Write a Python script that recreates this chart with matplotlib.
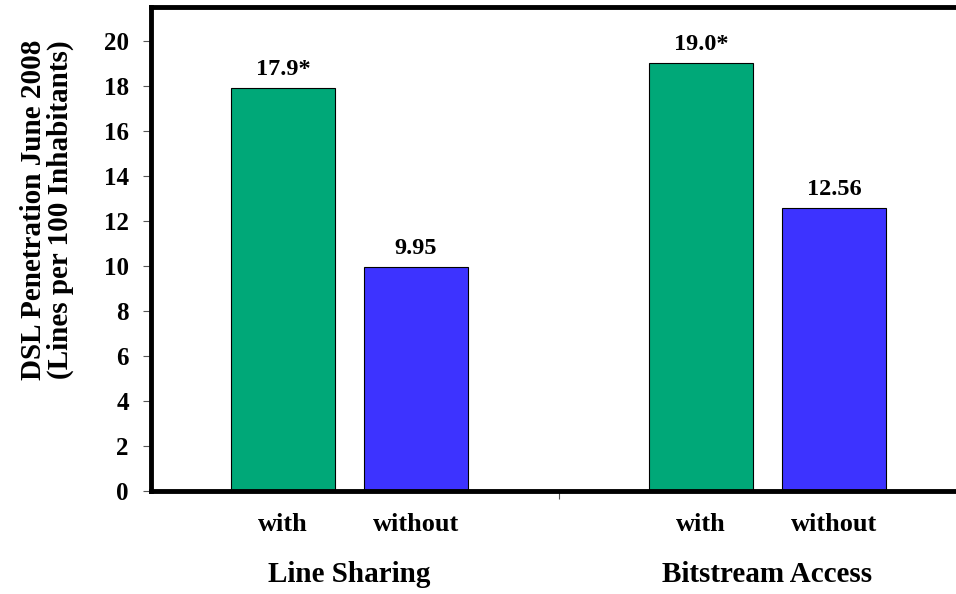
import matplotlib
matplotlib.use("Agg")
import matplotlib.pyplot as plt
import matplotlib.transforms as mtransforms
import numpy as np

groups = ["Line Sharing", "Bitstream Access"]
subcats = ["with", "without"]
with_vals = [17.9, 19.0]
without_vals = [9.95, 12.56]
with_labels = ["17.9*", "19.0*"]
without_labels = ["9.95", "12.56"]
yticks = [0, 2, 4, 6, 8, 10, 12, 14, 16, 18, 20]

plt.rcParams['font.family'] = ['Liberation Serif', 'DejaVu Serif']
plt.rcParams['font.weight'] = 'bold'

fig = plt.figure(figsize=(9.56, 5.94), dpi=100)
ax = fig.add_axes([151/956, 103/594, 815/956, 484/594])

x = np.arange(len(groups))
off = 0.159
w = 0.249
green = '#00A878'
blue = '#3D33FF'
b1 = ax.bar(x - off, with_vals, w, color=green, edgecolor='black', linewidth=0.8)
b2 = ax.bar(x + off, without_vals, w, color=blue, edgecolor='black', linewidth=0.8)

for rect, lab in zip(b1, with_labels):
    ax.annotate(lab, (rect.get_x() + rect.get_width()/2, rect.get_height()),
                xytext=(0, 6), textcoords='offset points', ha='center', va='bottom',
                fontsize=17.5, fontweight='bold')
for rect, lab in zip(b2, without_labels):
    ax.annotate(lab, (rect.get_x() + rect.get_width()/2, rect.get_height()),
                xytext=(0, 6), textcoords='offset points', ha='center', va='bottom',
                fontsize=17.5, fontweight='bold')

ax.set_xlim(-0.475, 1.475)
ax.set_ylim(0, 21.5)
ax.set_yticks(yticks)
ax.set_yticklabels([str(v) for v in yticks], fontsize=18, fontweight='bold')

pos = np.concatenate([x - off, x + off])
labs = [subcats[0]] * len(x) + [subcats[1]] * len(x)
ax.set_xticks(pos)
ax.set_xticklabels(labs, fontsize=19, fontweight='bold')
ax.tick_params(axis='x', which='major', length=0, pad=16)
ax.set_xticks([0.5], minor=True)
ax.tick_params(axis='x', which='minor', length=6, width=0.8, color='#555555')
ax.tick_params(axis='y', length=6, width=0.8, color='#555555', pad=10)

trans = mtransforms.blended_transform_factory(ax.transData, fig.transFigure)
for xi, g in zip(x, groups):
    ax.text(xi, 1 - 575/594, g, transform=trans, ha='center', va='center',
            fontsize=21, fontweight='bold')

for s in ['top', 'left', 'bottom']:
    ax.spines[s].set_linewidth(3.5)
ax.spines['right'].set_visible(False)

fig.text(47/956, 1 - 210/594, "DSL Penetration June 2008\n(Lines per 100 Inhabitants)",
         rotation=90, ha='center', va='center', fontsize=21, fontweight='bold',
         linespacing=1.0)

fig.savefig("out.png", dpi=100)
